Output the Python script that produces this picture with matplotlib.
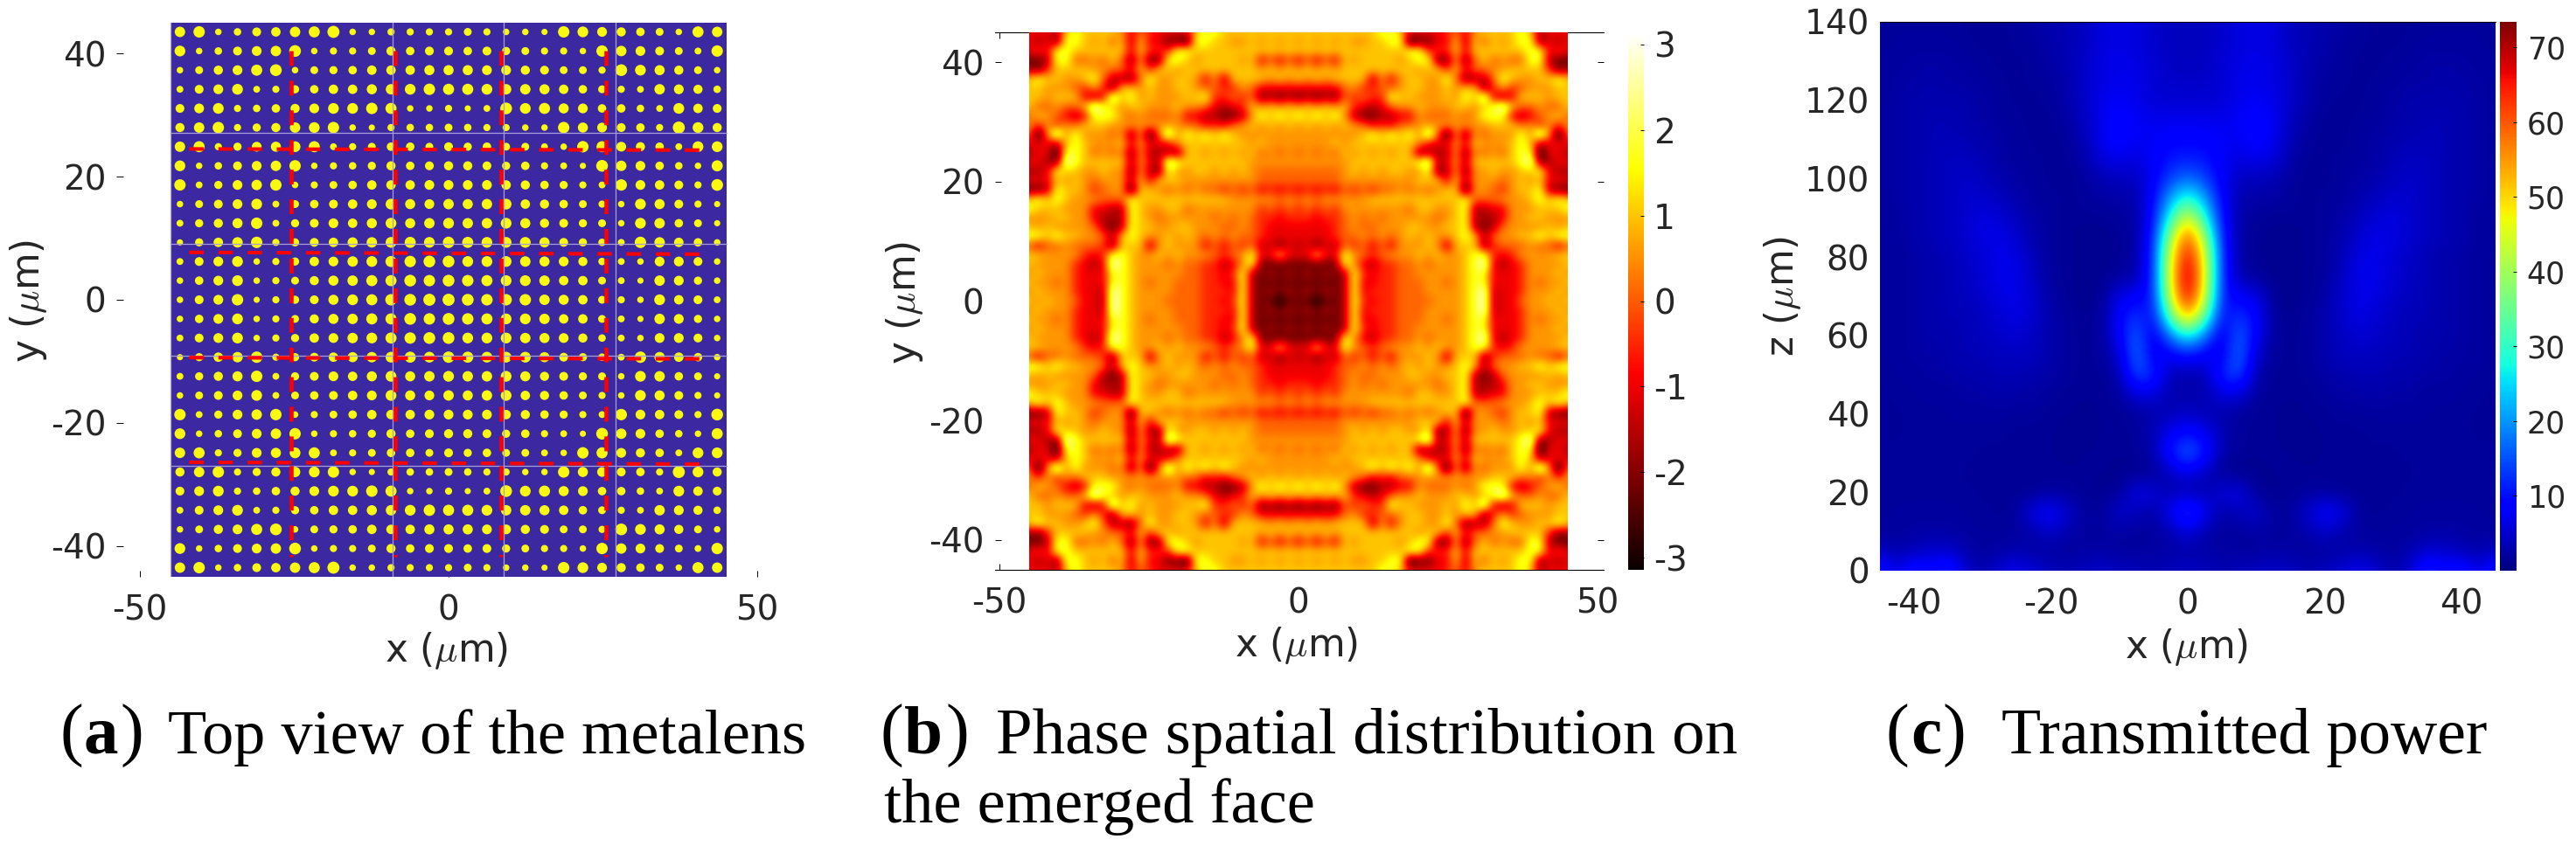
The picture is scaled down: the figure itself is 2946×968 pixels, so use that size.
import numpy as np
import matplotlib
matplotlib.use('Agg')
import matplotlib.pyplot as plt
from matplotlib.patches import Rectangle

plt.rcParams['font.family'] = 'DejaVu Sans'
plt.rcParams['mathtext.fontset'] = 'cm'
plt.rcParams['axes.unicode_minus'] = False
plt.rcParams['text.color'] = '#262626'
plt.rcParams['xtick.labelcolor'] = '#262626'
plt.rcParams['ytick.labelcolor'] = '#262626'

W, H = 2946, 968

# (a) pillar diameters, top half of the lens (bottom half is its mirror image)
# units: 1/3 of a pixel of the picture
dot_rows = [
    [32,35,20,23,27,29,32,34,37,20,20,22,22,22,22,24,22,20,20,19,35,33,30,28,26,24,20,34,32],
    [33,20,23,27,30,32,36,20,22,22,24,28,26,27,27,26,27,25,24,22,22,20,35,32,30,27,24,21,35],
    [20,24,28,30,34,36,20,24,25,26,29,29,29,31,31,31,30,30,28,27,24,24,22,36,33,31,28,24,20],
    [21,27,30,33,21,22,25,26,29,29,31,32,33,35,34,34,33,32,32,31,29,26,24,22,21,32,30,28,23],
    [27,30,33,22,23,26,28,30,33,33,35,34,20,20,22,19,21,36,33,34,31,30,26,26,23,21,33,29,27],
    [28,32,35,22,25,28,32,33,35,20,19,22,23,23,24,23,22,22,20,20,35,31,30,27,26,22,37,33,28],
    [32,34,22,25,30,31,33,34,21,22,24,26,26,24,27,25,26,24,24,21,20,35,34,30,28,26,21,33,33],
    [33,20,23,27,30,32,35,20,22,23,25,28,26,27,28,28,27,25,26,22,21,19,36,32,30,26,23,20,34],
    [35,21,25,30,32,35,20,22,24,26,29,29,29,30,30,30,30,29,28,26,25,22,21,35,30,29,27,22,36],
    [20,24,27,30,33,21,24,26,27,29,30,33,31,30,32,31,32,33,29,28,26,24,22,20,33,31,27,22,19],
    [21,25,28,31,35,21,25,27,30,29,31,33,31,32,33,32,32,33,31,28,27,25,24,20,33,32,26,24,19],
    [19,25,29,32,35,22,25,27,29,31,32,33,34,33,35,34,33,33,33,31,27,25,23,21,35,32,29,26,20],
    [21,27,30,33,20,22,25,29,30,32,33,34,35,36,36,33,33,33,32,31,30,28,23,21,20,30,30,27,20],
    [20,26,30,33,20,22,24,28,31,32,34,34,36,35,36,35,34,33,33,32,29,29,24,21,19,32,30,25,20],
    [20,27,30,35,19,22,25,27,31,33,34,35,36,37,37,36,35,35,35,32,31,29,24,22,20,33,29,27,21],
]
grid_x = [-45, -9.1, 8.9, 27]
grid_y = [27.1, 9.1, -9.1, -27]
dash_x = [-25.5, -8.6, 8.5, 25.5]
dash_y = [(24.5, 24.3), (7.7, 7.4), (-9.4, -9.6), (-26.4, -26.7)]

# (b) phase, top left quadrant, coded in levels
phase_levels = [-3.14, -2.2, -1.6, -1.0, -0.5, 0.1, 0.55, 1.0, 1.8, 3.0]
phase_rows = [
    "333278777763543333788777777777",
    "323188767572733110887766767676",
    "343887777773744488777777777777",
    "112885565751611887677776735353",
    "214777766553747767777777767676",
    "787766785221586677636277776767",
    "776665464177676677655446533333",
    "776777323978676667784454512121",
    "755655798767766676653234767676",
    "576532388865655563322112687878",
    "646465777666666665534356767676",
    "506968666561605968787876666666",
    "333278766673633367777777676666",
    "233088756561622217767676756565",
    "332198777772632987777777666666",
    "223877667661621866776767655555",
    "333767656662737776666666655555",
    "112877645660776565655454534343",
    "787876665558777777777766666565",
    "877766633228766775666666645454",
    "666776632228765666665656544344",
    "767666652128776677666556543333",
    "887877665278766767656565543333",
    "535565554177726766635354523132",
    "776666434887667676665456833733",
    "766664323987666565544236811111",
    "676664333887666665544348212121",
    "766564333887656655544338211111",
    "676664332987666655544438212121",
    "767665332987666555544348211011",
]

# (c) transmitted power, x >= 0 half, z from 140 down to 0 in steps of 5
power_rows = [
    [4.2,4.2,5,6.5,6.5,6.5,4.2,3.5,3,2.5,2,1.5,1.5,1.5,2,2,2,2,2],
    [4.2,4.2,5,6,6.5,6,4.2,3.5,3,2,2,1.5,1.5,2,2,2,2,2,2],
    [4.2,4.2,5.5,6.5,7,6.5,4.8,3.5,2.5,2,1.5,1.5,2,2,2.5,2.5,2.5,2,2],
    [4.8,4.8,5.5,7,7,6.5,4.8,3,2,2,1.5,2,2,2.5,2.5,3,2.5,2.5,2],
    [5.5,5.5,5.5,7,8,7,4.8,3,2,1.5,1.5,2,2.5,3,3,3,3,2.5,2],
    [7,7,7,8,9,7.5,4.2,2.5,1.5,1.5,2,2,2.5,3,3.5,3.5,3,2.5,2],
    [9,9,8,7.5,9.5,7.5,3.5,2,1.5,1.5,2,2.5,3,3.5,3.5,3.5,3,2.5,2],
    [11,10.5,8,6,7,6,3,1.5,1.5,2,2,2.5,3.5,4.2,4.2,3.5,3,2.5,2],
    [17,14,8,4.2,4.2,3.5,2,1.5,1.5,2,2.5,3,4.2,4.8,4.2,3.5,3,2.5,2],
    [30,21,9,3,2.5,2.5,2,1.5,2,2,3,4.2,5,5,4.2,3.5,3,2.5,2],
    [47,29,10,2.5,2,1.5,1.5,1.5,2,2.5,4.2,5.5,6.5,5,4.2,3.5,3,2,2],
    [62,40,11,2.5,1.5,1.2,1.2,1.5,2,3,5,7,6.5,5,4.2,3.5,3,2,2],
    [69,46,12,2.5,1.5,1.2,1.2,1.5,2,3.5,6.5,7,5.5,4.8,3.5,3,2.5,2,2],
    [73,47,12,3,2,1.2,1.2,1.5,2,4.2,7,7,5.5,4.2,3.5,3,2.5,2,2],
    [69,45,11,8,7,1.5,1.2,1.5,2.5,4.8,7,6.5,4.8,4.2,3.5,3,2.5,2,2],
    [55,35,9,13,9,2,1.2,2,3,5,6.5,5.5,4.2,3.5,3.5,3,2.5,2,2],
    [28,18,6,17,8,2,1.5,2,3,4.2,5.5,4.8,4.2,3.5,3,3,2.5,2,2],
    [10,8,7,18,5,2,1.5,2,3,4.2,4.2,4.2,3.5,3.5,3,2.5,2.5,2,2],
    [3,3.5,12,15,3,1.5,1.5,2,2.5,3,3.5,3.5,3,3,2.5,2.5,2,2,2],
    [3,3,6,6,2,1.5,1.5,1.5,2,2.5,2.5,3,2.5,2.5,2,2,2,2,1.5],
    [4.5,3.5,3,2,1.5,1.5,1.2,1.5,1.5,2,2,2,2,2,2,2,2,1.5,1.5],
    [10,8,3.5,2,1.5,1.5,1.2,1.2,1.5,1.5,1.5,2,2,2,2,2,2,1.5,1.5],
    [17,11,3,1.5,1.5,1.5,1.5,1.2,1.5,1.5,1.5,1.5,1.5,2,2,2,2,2,2],
    [7,4,1.5,1.2,1.2,1.5,1.5,1.5,1.5,1.5,1.5,1.5,1.5,1.5,2,2,2,2,2],
    [3,3,6,7,1.5,1.2,1.5,2,2,1.5,1.5,1.5,1.5,2,2,2,2,2,2],
    [15,8,2.5,4,5.5,2,2,5,9,7,2,1.5,2,2,2,2,2,2,2],
    [6,3,2,2,2.5,2,2,3,5,3,2,2,2,2,2.5,2.5,2.5,2,2],
    [3,2.5,2.5,2,2,2.5,2.5,2,2,2.5,3,2.5,2,3,5,5,3.5,3,4],
    [4.2,4.2,3,4.2,4.2,5,4.2,3.5,4.2,5.5,8,5.5,3,5,13,9,12,6,12],
]

a_ticks_x = [-50, 0, 50]
ticks_y = [-40, -20, 0, 20, 40]
c_ticks_x = [-40, -20, 0, 20, 40]
c_ticks_z = [0, 20, 40, 60, 80, 100, 120, 140]
phase_ticks = [-3, -2, -1, 0, 1, 2, 3]
power_ticks = [10, 20, 30, 40, 50, 60, 70]

TICK = 28
LABEL = 31.5


def px_axes(fig, x0, x1, y0, y1):
    # pixel box, y counted from the top like in the picture
    return fig.add_axes([x0 / W, 1 - y1 / H, (x1 - x0) / W, (y1 - y0) / H])


def px_text(fig, x, y, s, **kw):
    return fig.text(x / W, 1 - y / H, s, **kw)


fig = plt.figure(figsize=(W / 100, H / 100), dpi=100)

# ---- (a)
ax = px_axes(fig, 160, 866, 26, 660)
ax.set_xlim(-50, 50)
ax.set_ylim(-45, 45)
ax.add_patch(Rectangle((-45, -45), 90, 90, facecolor='#3c28a0', edgecolor='none', zorder=3))
top = np.array(dot_rows, dtype=float)
dots = np.vstack([top, top[-2::-1]])
pitch = 3.108
xs, ys = np.meshgrid((np.arange(29) - 14) * pitch, (14 - np.arange(29)) * pitch)
ax.scatter(xs.ravel(), ys.ravel(), s=(dots.ravel() * 1.12 / 3 * 0.72) ** 2, c='#f9f90f', linewidths=0, zorder=4)
for gx in grid_x:
    ax.plot([gx, gx], [-45, 45], color='#a79fdb', lw=0.9, zorder=5)
for gy in grid_y:
    ax.plot([-45, 45], [gy, gy], color='#a79fdb', lw=0.9, zorder=5)
for dx in dash_x:
    ax.plot([dx, dx], [40.4, -41.8], color='#ff0000', lw=3.3, ls=(0, (3.7, 3.7)), dash_capstyle='butt', zorder=6)
for dy in dash_y:
    ax.plot([-42, 41.4], dy, color='#ff0000', lw=3.0, ls=(0, (4.0, 4.0)), dash_capstyle='butt', zorder=6)
for name in ['top', 'right', 'bottom', 'left']:
    ax.spines[name].set_visible(False)
ax.spines['left'].set_position(('outward', 19 * 0.72))
ax.set_xticks(a_ticks_x)
ax.set_yticks(ticks_y)
ax.tick_params(axis='x', direction='in', length=5, width=0.7, pad=14, labelsize=TICK)
ax.tick_params(axis='y', direction='out', length=5.5, width=0.7, pad=8.5, labelsize=TICK)
px_text(fig, 511, 745, r'x ($\mu$m)', fontsize=LABEL, ha='center', va='center')
px_text(fig, 32, 344, r'y ($\mu$m)', fontsize=LABEL, ha='center', va='center', rotation=90)

# ---- (b)
ax = px_axes(fig, 1138, 1834, 37, 652)
q = np.array([[phase_levels[int(ch)] for ch in row] for row in phase_rows])
half = np.hstack([q, q[:, -2::-1]])
phase = np.vstack([half, half[-2::-1]])
step = 90 / 58
im = ax.imshow(phase, cmap='hot', vmin=-3.14, vmax=3.14, interpolation='bicubic',
               extent=(-45 - step / 2, 45 + step / 2, -45 - step / 2, 45 + step / 2),
               aspect='auto', zorder=3)
im.set_clip_path(Rectangle((-45, -45), 90, 90, transform=ax.transData))
ax.set_xlim(-50.7, 51.0)
ax.set_ylim(-45, 45)
ax.spines['left'].set_visible(False)
ax.spines['right'].set_visible(False)
ax.spines['top'].set_linewidth(0.8)
ax.spines['bottom'].set_linewidth(0.8)
ax.set_xticks(a_ticks_x)
ax.set_yticks(ticks_y)
ax.tick_params(axis='x', direction='in', length=5, width=0.7, top=True, pad=14, labelsize=TICK)
ax.tick_params(axis='y', direction='in', length=5, width=0.7, right=True, pad=9, labelsize=TICK)
ax.xaxis.get_major_ticks()[2].tick1line.set_visible(False)
ax.xaxis.get_major_ticks()[2].tick2line.set_visible(False)
for i in [1, 2]:
    ax.yaxis.get_major_ticks()[i].tick1line.set_visible(False)
    ax.yaxis.get_major_ticks()[i].tick2line.set_visible(False)
px_text(fig, 1483, 739, r'x ($\mu$m)', fontsize=LABEL, ha='center', va='center')
px_text(fig, 1035, 346, r'y ($\mu$m)', fontsize=LABEL, ha='center', va='center', rotation=90)

cax = px_axes(fig, 1862, 1880, 37, 652)
cb = fig.colorbar(im, cax=cax, ticks=phase_ticks)
cb.outline.set_visible(False)
cb.ax.tick_params(direction='in', length=3, width=0.7, pad=8, labelsize=TICK)

# ---- (c)
ax = px_axes(fig, 2150, 2854, 25, 653)
p = np.array(power_rows, dtype=float)
power = np.hstack([p[:, :0:-1], p])
im = ax.imshow(power, cmap='jet', vmin=0, vmax=73.4, interpolation='bicubic',
               extent=(-46.25, 46.25, -2.5, 142.5), aspect='auto')
ax.set_xlim(-45, 45)
ax.set_ylim(0, 140)
for name in ['right', 'bottom', 'left']:
    ax.spines[name].set_visible(False)
ax.spines['top'].set_linewidth(0.8)
ax.set_xticks(c_ticks_x)
ax.set_yticks(c_ticks_z)
ax.tick_params(axis='both', length=0, labelsize=TICK)
ax.tick_params(axis='x', pad=14)
ax.tick_params(axis='y', pad=8.5)
px_text(fig, 2501, 740, r'x ($\mu$m)', fontsize=LABEL, ha='center', va='center')
px_text(fig, 2039, 339, r'z ($\mu$m)', fontsize=LABEL, ha='center', va='center', rotation=90)

cax = px_axes(fig, 2859, 2878, 25, 653)
cb = fig.colorbar(im, cax=cax, ticks=power_ticks)
cb.outline.set_visible(False)
cb.ax.tick_params(direction='in', length=3, width=0.7, pad=8.5, labelsize=25)

# ---- captions
serif = {'family': 'Liberation Serif', 'color': 'black', 'va': 'baseline'}
captions = [
    ('a', 68, 96, 137, 192, 52, 'Top view of the metalens'),
    ('b', 1006, 1034, 1081, 1139, 54, 'Phase spatial distribution on'),
    ('c', 2157, 2185, 2221, 2289, 53, 'Transmitted power'),
]
for letter, x_open, x_letter, x_close, x_text, size, txt in captions:
    px_text(fig, x_open, 862, '(', fontsize=58, **serif)
    px_text(fig, x_letter, 862, letter, fontsize=57, fontweight='bold', **serif)
    px_text(fig, x_close, 862, ')', fontsize=58, **serif)
    px_text(fig, x_text, 862, txt, fontsize=size, **serif)
px_text(fig, 1011, 941, 'the emerged face', fontsize=52, **serif)

fig.savefig('out.png', dpi=100)
